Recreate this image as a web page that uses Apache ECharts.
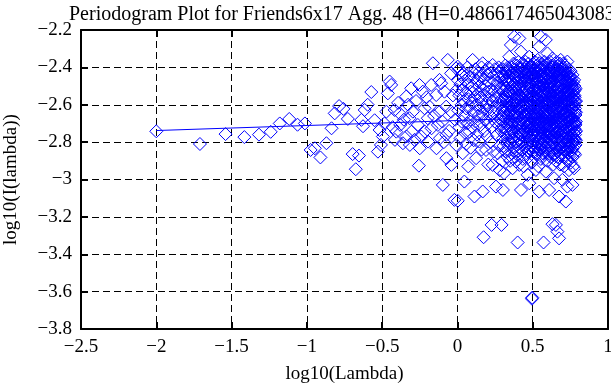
<!DOCTYPE html>
<html>
<head>
<meta charset="utf-8">
<script src="https://cdn.jsdelivr.net/npm/echarts@6/dist/echarts.min.js"></script>
<style>html,body{margin:0;padding:0;background:#fff}#c{width:611px;height:385px}</style>
</head>
<body>
<div id="c"></div>
<script>
// ---- data (log10(lambda), log10(I(lambda))) ----
const titleText = 'Periodogram Plot for Friends6x17 Agg. 48 (H=0.486617465043083)';
const xTicks = [-2.5, -2, -1.5, -1, -0.5, 0, 0.5, 1];
const yTicks = [-3.8, -3.6, -3.4, -3.2, -3, -2.8, -2.6, -2.4, -2.2];
const fitX = [-2.0, 0.787];
const fitY = [-2.738, -2.663];

const lowFreq = [
[-2.0,-2.742],[-1.71,-2.81],[-1.54,-2.757],[-1.415,-2.773],[-1.318,-2.76],[-1.24,-2.745],
[-1.18,-2.70],[-1.117,-2.676],[-1.062,-2.707],[-1.013,-2.70],[-0.975,-2.842],[-0.947,-2.833],
[-0.91,-2.882],[-0.87,-2.806],[-0.836,-2.726],[-0.815,-2.646],[-0.786,-2.607],[-0.757,-2.622],
[-0.728,-2.676],[-0.696,-2.864],[-0.675,-2.945],[-0.654,-2.872],[-0.638,-2.681],[-0.627,-2.715],
[-0.616,-2.628],[-0.596,-2.60],[-0.572,-2.532],[-0.55,-2.683],[-0.528,-2.851],[-0.517,-2.735]
];
const midFreq = [
[-0.508,-2.815],[-0.495,-2.77],[-0.484,-2.70],[-0.472,-2.637],[-0.462,-2.539],[-0.45,-2.476],
[-0.44,-2.494],[-0.43,-2.72],[-0.417,-2.628],[-0.415,-2.788],[-0.406,-2.744],[-0.394,-2.59],
[-0.384,-2.646],[-0.38,-2.708],[-0.362,-2.806],[-0.355,-2.68],[-0.34,-2.556],[-0.338,-2.77],
[-0.328,-2.60],[-0.318,-2.672],[-0.316,-2.815],[-0.307,-2.512],[-0.305,-2.744],[-0.296,-2.637],
[-0.285,-2.788],[-0.275,-2.58],[-0.263,-2.708],[-0.256,-2.926],[-0.252,-2.494],[-0.25,-2.833],
[-0.24,-2.77],[-0.23,-2.53],[-0.218,-2.619],[-0.216,-2.744],[-0.205,-2.56],[-0.197,-2.672],
[-0.195,-2.797],[-0.185,-2.61],[-0.174,-2.494],[-0.172,-2.726],[-0.163,-2.378],[-0.155,-2.66],
[-0.141,-2.548],[-0.139,-2.833],[-0.13,-2.708],[-0.119,-2.467],[-0.118,-2.637],[-0.116,-2.779],
[-0.108,-2.485],[-0.10,-2.69],[-0.097,-3.029],[-0.09,-2.80],[-0.086,-2.53],[-0.075,-2.61],
[-0.074,-2.761],[-0.073,-2.886],[-0.064,-2.36],[-0.055,-2.74],[-0.042,-2.432],[-0.041,-2.637],
[-0.04,-2.922],[-0.03,-2.55],[-0.02,-3.109],[-0.015,-2.68],[-0.009,-2.405],[-0.008,-2.815],[-0.004,-2.52]
];
const highFreqA = [
[0.002,-3.114],[0.002,-2.396],[0.005,-2.47],[0.005,-2.63],[0.012,-2.55],[0.012,-2.72],[0.012,-2.41],
[0.02,-2.49],[0.02,-2.78],[0.028,-2.60],[0.028,-2.44],[0.028,-2.69],[0.035,-2.86],[0.035,-2.52],
[0.042,-2.58],[0.042,-2.66],[0.042,-2.43],[0.046,-3.011],[0.05,-2.75],[0.05,-2.47],
[0.058,-2.62],[0.058,-2.54],[0.058,-2.81],[0.066,-2.40],[0.066,-2.70],[0.072,-2.57],[0.072,-2.49],
[0.072,-2.93],[0.08,-2.744],[0.08,-2.45],[0.08,-2.61],[0.088,-2.53],[0.088,-2.68],[0.088,-2.83],
[0.095,-2.42],[0.095,-2.59],[0.101,-2.36],[0.101,-2.72],[0.101,-2.50],[0.108,-2.64],[0.108,-2.79],
[0.108,-2.46],[0.113,-3.091],[0.113,-2.56],[0.12,-2.41],[0.12,-2.69],[0.12,-2.52],[0.124,-2.886],
[0.13,-2.60],[0.13,-2.47],[0.13,-2.76],[0.138,-2.54],[0.138,-2.66],[0.138,-2.43],[0.146,-2.797],
[0.146,-2.50],[0.146,-2.62],[0.152,-2.45],[0.152,-2.71],[0.152,-2.56],[0.16,-2.58],[0.16,-2.40],
[0.16,-2.84],[0.168,-2.378],[0.168,-3.064],[0.168,-2.65],[0.174,-3.309],[0.174,-2.52],
[0.178,-2.74],[0.178,-2.46],[0.178,-2.61],[0.185,-2.55],[0.185,-2.68],[0.185,-2.42],
[0.19,-2.842],[0.19,-2.50],[0.19,-2.59],[0.198,-2.44],[0.198,-2.77],[0.198,-2.63],
[0.205,-2.53],[0.205,-2.40],[0.205,-2.70],[0.205,-2.92],[0.212,-2.48],[0.212,-2.61],[0.212,-2.57],
[0.22,-2.66],[0.22,-2.43],[0.22,-2.80],[0.227,-3.243],[0.227,-2.52],[0.227,-2.72],
[0.234,-2.387],[0.234,-2.922],[0.234,-2.58],[0.24,-2.47],[0.24,-2.64],[0.24,-2.85],
[0.248,-2.55],[0.248,-2.41],[0.248,-2.69],[0.256,-3.038],[0.256,-2.50],[0.256,-2.62],
[0.262,-2.44],[0.262,-2.76],[0.262,-2.57],[0.267,-2.86],[0.267,-2.66],[0.267,-2.48],
[0.274,-2.53],[0.274,-2.40],[0.274,-2.71],[0.28,-2.60],[0.28,-2.45],[0.28,-2.82],[0.28,-2.95],
[0.287,-2.51],[0.287,-2.68],[0.287,-2.42],[0.293,-3.243],[0.293,-2.57],[0.293,-2.74],
[0.298,-2.46],[0.298,-2.63],[0.298,-2.90]
];
const highFreqB = [
[0.302,-2.41],[0.302,-2.53],[0.302,-2.61],[0.302,-2.69],[0.302,-2.78],[0.302,-3.056],
[0.31,-2.45],[0.31,-2.50],[0.31,-2.64],[0.31,-2.72],[0.31,-2.966],[0.31,-2.58],
[0.318,-2.39],[0.318,-2.56],[0.318,-2.67],[0.318,-2.75],[0.318,-2.85],[0.318,-2.47],
[0.326,-2.43],[0.326,-2.58],[0.326,-2.62],[0.326,-2.84],[0.326,-2.51],[0.326,-2.70],
[0.334,-2.40],[0.334,-2.48],[0.334,-2.66],[0.334,-2.79],[0.334,-2.88],[0.334,-2.55],
[0.344,-2.343],[0.344,-2.59],[0.344,-2.69],[0.344,-2.76],[0.344,-2.53],[0.344,-2.45],
[0.35,-2.42],[0.35,-2.52],[0.35,-2.61],[0.35,-2.68],[0.35,-2.81],[0.35,-2.90],
[0.355,-2.28],[0.355,-2.47],[0.355,-2.63],[0.355,-2.73],[0.355,-2.57],
[0.362,-2.40],[0.362,-2.55],[0.362,-2.66],[0.362,-2.78],[0.362,-2.86],[0.362,-2.50],
[0.366,-2.94],[0.366,-2.44],[0.366,-2.60],[0.366,-2.71],
[0.372,-2.38],[0.372,-2.49],[0.372,-2.57],[0.372,-2.69],[0.372,-2.83],[0.372,-2.62],
[0.377,-2.236],[0.377,-2.43],[0.377,-2.54],[0.377,-2.75],[0.377,-2.66],
[0.384,-2.41],[0.384,-2.51],[0.384,-2.64],[0.384,-2.72],[0.384,-2.80],[0.384,-2.88],
[0.389,-2.904],[0.389,-2.46],[0.389,-2.58],[0.389,-2.68],[0.389,-2.53],
[0.395,-2.39],[0.395,-2.44],[0.395,-2.62],[0.395,-2.77],[0.395,-2.70],[0.395,-2.56],
[0.40,-3.337],[0.40,-2.48],[0.40,-2.60],[0.40,-2.67],[0.40,-2.85],[0.40,-2.42],
[0.406,-2.37],[0.406,-2.52],[0.406,-2.63],[0.406,-2.74],[0.406,-2.81],[0.406,-2.57],
[0.411,-2.245],[0.411,-2.922],[0.411,-2.45],[0.411,-2.59],[0.411,-2.70],
[0.416,-2.40],[0.416,-2.50],[0.416,-2.65],[0.416,-2.78],[0.416,-2.87],[0.416,-2.55],
[0.422,-2.316],[0.422,-3.056],[0.422,-2.43],[0.422,-2.61],[0.422,-2.72],[0.422,-2.68],
[0.428,-2.38],[0.428,-2.47],[0.428,-2.56],[0.428,-2.64],[0.428,-2.76],[0.428,-2.84],
[0.434,-2.42],[0.434,-2.53],[0.434,-2.62],[0.434,-2.71],[0.434,-2.89],[0.434,-2.49],
[0.44,-2.39],[0.44,-2.58],[0.44,-2.67],[0.44,-2.80],[0.44,-2.45],[0.44,-2.93],
[0.446,-2.41],[0.446,-2.50],[0.446,-2.60],[0.446,-2.74],[0.446,-2.83],[0.446,-2.55],
[0.452,-2.37],[0.452,-2.46],[0.452,-2.63],[0.452,-2.69],[0.452,-2.78],[0.452,-2.58],
[0.458,-2.43],[0.458,-2.52],[0.458,-2.66],[0.458,-2.75],[0.458,-2.86],[0.458,-2.40],
[0.466,-2.975],[0.466,-2.48],[0.466,-2.57],[0.466,-2.64],[0.466,-2.72],[0.466,-2.81],
[0.472,-2.38],[0.472,-2.45],[0.472,-2.61],[0.472,-2.70],[0.472,-2.55],[0.472,-2.88],
[0.477,-2.343],[0.477,-3.02],[0.477,-2.50],[0.477,-2.65],[0.477,-2.77],[0.477,-2.42],
[0.483,-2.40],[0.483,-2.54],[0.483,-2.59],[0.483,-2.68],[0.483,-2.84],[0.483,-2.47],
[0.489,-2.39],[0.489,-2.49],[0.489,-2.62],[0.489,-2.73],[0.489,-2.80],[0.489,-2.57],
[0.495,-3.638],[0.495,-2.44],[0.495,-2.56],[0.495,-2.66],[0.495,-2.91],[0.495,-2.70],[0.497,-3.632]
];
const highFreqC = [
[0.502,-2.38],[0.502,-2.52],[0.502,-2.60],[0.502,-2.76],[0.502,-2.85],[0.502,-2.47],
[0.508,-2.41],[0.508,-2.49],[0.508,-2.64],[0.508,-2.71],[0.508,-2.79],[0.508,-2.57],
[0.514,-2.37],[0.514,-2.55],[0.514,-2.62],[0.514,-2.68],[0.514,-2.88],[0.514,-2.45],
[0.521,-2.949],[0.521,-2.43],[0.521,-2.58],[0.521,-2.74],[0.521,-2.82],[0.521,-2.52],
[0.527,-2.39],[0.527,-2.48],[0.527,-2.61],[0.527,-2.67],[0.527,-2.77],[0.527,-2.56],
[0.533,-2.36],[0.533,-2.46],[0.533,-2.54],[0.533,-2.65],[0.533,-2.72],[0.533,-2.86],
[0.538,-2.42],[0.538,-2.51],[0.538,-2.63],[0.538,-2.70],[0.538,-2.80],[0.538,-2.93],
[0.543,-2.289],[0.543,-2.378],[0.543,-3.065],[0.543,-2.58],[0.543,-2.76],[0.543,-2.67],
[0.549,-2.40],[0.549,-2.47],[0.549,-2.60],[0.549,-2.73],[0.549,-2.84],[0.549,-2.53],
[0.554,-2.236],[0.554,-2.44],[0.554,-2.56],[0.554,-2.66],[0.554,-2.78],[0.554,-2.89],
[0.56,-2.38],[0.56,-2.50],[0.56,-2.62],[0.56,-2.69],[0.56,-2.81],[0.56,-2.58],
[0.566,-2.41],[0.566,-2.53],[0.566,-2.64],[0.566,-2.75],[0.566,-2.87],[0.566,-2.46],
[0.572,-3.337],[0.572,-2.39],[0.572,-2.57],[0.572,-2.68],[0.572,-2.79],[0.572,-2.50],
[0.578,-2.37],[0.578,-2.45],[0.578,-2.61],[0.578,-2.72],[0.578,-2.83],[0.578,-2.55],
[0.587,-2.253],[0.587,-2.958],[0.587,-2.48],[0.587,-2.59],[0.587,-2.66],[0.587,-2.76],
[0.592,-2.40],[0.592,-2.52],[0.592,-2.63],[0.592,-2.70],[0.592,-2.86],[0.592,-2.44],
[0.598,-2.325],[0.598,-2.47],[0.598,-2.56],[0.598,-2.67],[0.598,-2.80],[0.598,-2.90],
[0.604,-2.38],[0.604,-2.50],[0.604,-2.60],[0.604,-2.74],[0.604,-2.84],[0.604,-2.58],
[0.609,-3.056],[0.609,-2.43],[0.609,-2.54],[0.609,-2.65],[0.609,-2.77],[0.609,-2.70],
[0.615,-2.37],[0.615,-2.46],[0.615,-2.62],[0.615,-2.71],[0.615,-2.82],[0.615,-2.52],
[0.62,-2.41],[0.62,-2.55],[0.62,-2.64],[0.62,-2.76],[0.62,-2.88],[0.62,-2.49],
[0.626,-2.39],[0.626,-2.48],[0.626,-2.58],[0.626,-2.68],[0.626,-2.79],[0.626,-2.61],
[0.631,-2.352],[0.631,-3.239],[0.631,-2.45],[0.631,-2.57],[0.631,-2.73],[0.631,-2.85],
[0.637,-2.40],[0.637,-2.51],[0.637,-2.63],[0.637,-2.70],[0.637,-2.81],[0.637,-2.92],
[0.642,-2.993],[0.642,-2.44],[0.642,-2.56],[0.642,-2.66],[0.642,-2.77],[0.642,-2.53],
[0.648,-2.38],[0.648,-2.49],[0.648,-2.60],[0.648,-2.72],[0.648,-2.86],[0.648,-2.64],
[0.654,-3.243],[0.654,-2.42],[0.654,-2.55],[0.654,-2.68],[0.654,-2.79],[0.654,-2.90]
];
const highFreqD = [
[0.659,-2.37],[0.659,-2.47],[0.659,-2.59],[0.659,-2.65],[0.659,-2.75],[0.659,-2.83],
[0.664,-3.279],[0.664,-2.41],[0.664,-2.52],[0.664,-2.62],[0.664,-2.71],[0.664,-2.88],
[0.67,-2.39],[0.67,-2.45],[0.67,-2.57],[0.67,-2.67],[0.67,-2.78],[0.67,-2.84],
[0.675,-3.315],[0.675,-3.091],[0.675,-2.43],[0.675,-2.54],[0.675,-2.64],[0.675,-2.74],
[0.681,-2.38],[0.681,-2.50],[0.681,-2.61],[0.681,-2.70],[0.681,-2.81],[0.681,-2.92],
[0.686,-2.36],[0.686,-2.47],[0.686,-2.56],[0.686,-2.66],[0.686,-2.76],[0.686,-2.87],
[0.692,-2.41],[0.692,-2.53],[0.692,-2.63],[0.692,-2.72],[0.692,-2.83],[0.692,-2.58],
[0.697,-3.002],[0.697,-2.40],[0.697,-2.49],[0.697,-2.60],[0.697,-2.69],[0.697,-2.79],
[0.703,-2.38],[0.703,-2.46],[0.703,-2.57],[0.703,-2.66],[0.703,-2.74],[0.703,-2.86],
[0.708,-2.42],[0.708,-2.55],[0.708,-2.62],[0.708,-2.71],[0.708,-2.82],[0.708,-2.93],
[0.714,-2.39],[0.714,-2.50],[0.714,-2.59],[0.714,-2.68],[0.714,-2.78],[0.714,-2.88],
[0.72,-3.118],[0.72,-2.44],[0.72,-2.56],[0.72,-2.64],[0.72,-2.75],[0.72,-2.84],
[0.725,-2.40],[0.725,-2.48],[0.725,-2.61],[0.725,-2.70],[0.725,-2.80],[0.725,-2.53],
[0.73,-2.369],[0.73,-3.038],[0.73,-2.52],[0.73,-2.63],[0.73,-2.73],[0.73,-2.90],
[0.736,-2.43],[0.736,-2.55],[0.736,-2.66],[0.736,-2.77],[0.736,-2.86],[0.736,-2.48],
[0.741,-2.41],[0.741,-2.50],[0.741,-2.60],[0.741,-2.69],[0.741,-2.82],[0.741,-2.95],
[0.747,-2.45],[0.747,-2.57],[0.747,-2.64],[0.747,-2.74],[0.747,-2.87],[0.747,-2.52],
[0.752,-2.42],[0.752,-2.53],[0.752,-2.62],[0.752,-2.71],[0.752,-2.80],[0.752,-2.91],
[0.758,-2.46],[0.758,-2.56],[0.758,-2.67],[0.758,-2.76],[0.758,-2.85],[0.758,-2.50],
[0.764,-3.029],[0.764,-2.44],[0.764,-2.59],[0.764,-2.68],[0.764,-2.79],[0.764,-2.88],
[0.769,-2.48],[0.769,-2.55],[0.769,-2.63],[0.769,-2.72],[0.769,-2.83],[0.769,-2.93],
[0.775,-2.467],[0.775,-2.94],[0.775,-2.58],[0.775,-2.66],[0.775,-2.75],[0.775,-2.86],
[0.777,-2.50],[0.777,-2.60],[0.777,-2.69],[0.777,-2.78],[0.777,-2.82],[0.777,-2.55],
[0.781,-2.868],[0.781,-2.52],[0.781,-2.62],[0.781,-2.70],[0.781,-2.76],
[0.784,-2.512],[0.784,-2.583],[0.784,-2.655],[0.784,-2.708],[0.784,-2.744],[0.784,-2.815],
[0.787,-2.58],[0.787,-2.64],[0.787,-2.69],[0.787,-2.74],[0.787,-2.79]
];
const highFreqE = [
[0.306,-2.44],[0.306,-2.66],[0.306,-2.82],[0.314,-2.52],[0.314,-2.61],[0.314,-2.76],
[0.322,-2.42],[0.322,-2.54],[0.322,-2.73],[0.33,-2.47],[0.33,-2.63],[0.33,-2.81],
[0.339,-2.41],[0.339,-2.56],[0.339,-2.71],[0.347,-2.49],[0.347,-2.64],[0.347,-2.75],
[0.358,-2.43],[0.358,-2.60],[0.358,-2.69],[0.369,-2.53],[0.369,-2.65],[0.369,-2.79],
[0.38,-2.45],[0.38,-2.59],[0.38,-2.70],[0.392,-2.50],[0.392,-2.66],[0.392,-2.84],
[0.403,-2.44],[0.403,-2.55],[0.403,-2.72],[0.414,-2.41],[0.414,-2.62],[0.414,-2.76],
[0.425,-2.46],[0.425,-2.58],[0.425,-2.80],[0.437,-2.44],[0.437,-2.60],[0.437,-2.75],
[0.449,-2.47],[0.449,-2.65],[0.449,-2.70],
[0.455,-2.44],[0.455,-2.56],[0.455,-2.65],[0.455,-2.74],[0.462,-2.47],[0.462,-2.59],[0.462,-2.72],[0.462,-2.81],
[0.469,-2.42],[0.469,-2.53],[0.469,-2.68],[0.469,-2.77],[0.475,-2.50],[0.475,-2.61],[0.475,-2.70],[0.475,-2.85],
[0.48,-2.45],[0.48,-2.57],[0.48,-2.63],[0.48,-2.79],[0.486,-2.40],[0.486,-2.51],[0.486,-2.66],[0.486,-2.73],
[0.492,-2.48],[0.492,-2.54],[0.492,-2.69],[0.492,-2.82],[0.499,-2.43],[0.499,-2.60],[0.499,-2.71],[0.499,-2.76],
[0.505,-2.44],[0.505,-2.56],[0.505,-2.67],[0.505,-2.74],[0.511,-2.46],[0.511,-2.59],[0.511,-2.73],[0.511,-2.83],
[0.517,-2.41],[0.517,-2.52],[0.517,-2.66],[0.517,-2.77],[0.524,-2.49],[0.524,-2.62],[0.524,-2.70],[0.524,-2.86],
[0.53,-2.43],[0.53,-2.57],[0.53,-2.64],[0.53,-2.80],[0.536,-2.40],[0.536,-2.50],[0.536,-2.68],[0.536,-2.75],
[0.541,-2.47],[0.541,-2.55],[0.541,-2.71],[0.541,-2.84],[0.546,-2.44],[0.546,-2.61],[0.546,-2.69],[0.546,-2.78],
[0.552,-2.42],[0.552,-2.51],[0.552,-2.64],[0.552,-2.74],[0.557,-2.48],[0.557,-2.59],[0.557,-2.72],[0.557,-2.83],
[0.563,-2.45],[0.563,-2.55],[0.563,-2.67],[0.563,-2.77],[0.569,-2.40],[0.569,-2.60],[0.569,-2.70],[0.569,-2.86],
[0.575,-2.49],[0.575,-2.53],[0.575,-2.66],[0.575,-2.75],[0.582,-2.43],[0.582,-2.57],[0.582,-2.69],[0.582,-2.80],
[0.59,-2.41],[0.59,-2.55],[0.59,-2.71],[0.59,-2.83],[0.595,-2.46],[0.595,-2.60],[0.595,-2.65],[0.595,-2.77],
[0.601,-2.44],[0.601,-2.53],[0.601,-2.68],[0.601,-2.73],[0.607,-2.48],[0.607,-2.58],[0.607,-2.72],[0.607,-2.86],
[0.612,-2.42],[0.612,-2.51],[0.612,-2.66],[0.612,-2.79],[0.618,-2.45],[0.618,-2.59],[0.618,-2.69],[0.618,-2.74],
[0.623,-2.43],[0.623,-2.54],[0.623,-2.63],[0.623,-2.83],[0.629,-2.40],[0.629,-2.61],[0.629,-2.71],[0.629,-2.77],
[0.634,-2.47],[0.634,-2.55],[0.634,-2.67],[0.634,-2.80],[0.64,-2.44],[0.64,-2.59],[0.64,-2.73],[0.64,-2.87],
[0.645,-2.42],[0.645,-2.52],[0.645,-2.65],[0.645,-2.75],[0.651,-2.46],[0.651,-2.57],[0.651,-2.70],[0.651,-2.82],
[0.657,-2.43],[0.657,-2.62],[0.657,-2.68],[0.657,-2.78],[0.662,-2.45],[0.662,-2.55],[0.662,-2.66],[0.662,-2.74],
[0.667,-2.41],[0.667,-2.50],[0.667,-2.72],[0.667,-2.85],[0.672,-2.48],[0.672,-2.60],[0.672,-2.69],[0.672,-2.79],
[0.678,-2.44],[0.678,-2.56],[0.678,-2.67],[0.678,-2.76],[0.684,-2.42],[0.684,-2.53],[0.684,-2.64],[0.684,-2.83],
[0.689,-2.46],[0.689,-2.59],[0.689,-2.71],[0.689,-2.80],[0.695,-2.44],[0.695,-2.55],[0.695,-2.66],[0.695,-2.75],
[0.70,-2.43],[0.70,-2.52],[0.70,-2.63],[0.70,-2.77],[0.706,-2.47],[0.706,-2.60],[0.706,-2.68],[0.706,-2.84],
[0.711,-2.45],[0.711,-2.54],[0.711,-2.65],[0.711,-2.74],[0.717,-2.42],[0.717,-2.58],[0.717,-2.72],[0.717,-2.81],
[0.722,-2.46],[0.722,-2.52],[0.722,-2.67],[0.722,-2.78],[0.728,-2.44],[0.728,-2.57],[0.728,-2.69],[0.728,-2.85],
[0.733,-2.47],[0.733,-2.59],[0.733,-2.66],[0.733,-2.76],[0.739,-2.45],[0.739,-2.53],[0.739,-2.72],[0.739,-2.80],
[0.744,-2.48],[0.744,-2.61],[0.744,-2.68],[0.744,-2.83],[0.75,-2.47],[0.75,-2.55],[0.75,-2.66],[0.75,-2.77],
[0.755,-2.49],[0.755,-2.59],[0.755,-2.73],[0.755,-2.81],[0.761,-2.51],[0.761,-2.62],[0.761,-2.70],[0.761,-2.84],
[0.766,-2.52],[0.766,-2.57],[0.766,-2.67],[0.766,-2.77],[0.772,-2.53],[0.772,-2.61],[0.772,-2.71],[0.772,-2.80],
[0.779,-2.56],[0.779,-2.64],[0.779,-2.73],[0.779,-2.79]
];

// ---- chart ----
const points = lowFreq.concat(midFreq, highFreqA, highFreqB, highFreqC, highFreqD, highFreqE);
const fitLine = fitX.map((x, i) => [x, fitY[i]]);
const FONT = 'Liberation Serif';
const fmt = v => String(+(+v).toFixed(1)).replace('-', '\u2212');

const chart = echarts.init(document.getElementById('c'), null, {renderer: 'canvas'});
const axisCommon = {
  axisLine: {show: true, onZero: false, lineStyle: {color: '#000', width: 2}},
  axisTick: {show: true, inside: true, length: 7, lineStyle: {color: '#000', width: 2}},
};
chart.setOption({
  animation: false,
  backgroundColor: '#fff',
  title: {
    text: titleText, left: 64, top: 0,
    textStyle: {fontFamily: FONT, fontSize: 20, fontWeight: 'normal', color: '#000'}
  },
  grid: {left: 81, right: 3, top: 30, bottom: 56, containLabel: false, outerBoundsMode: 'none'},
  xAxis: [{
    type: 'value', min: xTicks[0], max: xTicks[xTicks.length - 1], interval: 0.5,
    position: 'bottom',
    name: 'log10(Lambda)', nameLocation: 'middle', nameGap: 36,
    nameTextStyle: {fontFamily: FONT, fontSize: 19, color: '#000'},
    ...axisCommon,
    axisLabel: {margin: 9, fontFamily: FONT, fontSize: 19, color: '#000', formatter: fmt},
    splitLine: {show: true, lineStyle: {color: '#000', width: 1, type: [7, 4]}}
  }, {
    type: 'value', min: xTicks[0], max: xTicks[xTicks.length - 1], interval: 0.5,
    position: 'top', ...axisCommon, axisLabel: {show: false}, splitLine: {show: false}
  }],
  yAxis: [{
    type: 'value', min: yTicks[0], max: yTicks[yTicks.length - 1], interval: 0.2,
    position: 'left',
    name: 'log10(I(lambda))', nameLocation: 'middle', nameGap: 60, nameRotate: 90,
    nameTextStyle: {fontFamily: FONT, fontSize: 19, color: '#000'},
    ...axisCommon,
    axisLabel: {margin: 9, fontFamily: FONT, fontSize: 19, color: '#000', formatter: fmt},
    splitLine: {show: true, lineStyle: {color: '#000', width: 1, type: [7, 4]}}
  }, {
    type: 'value', min: yTicks[0], max: yTicks[yTicks.length - 1], interval: 0.2,
    position: 'right', ...axisCommon, axisLabel: {show: false}, splitLine: {show: false}
  }],
  series: [{
    type: 'scatter', data: points, symbol: 'diamond', symbolSize: 13,
    itemStyle: {color: 'rgba(0,0,0,0)', borderColor: '#0000ff', borderWidth: 1, opacity: 1},
    emphasis: {disabled: true}, silent: true, z: 2
  }, {
    type: 'line', data: fitLine, showSymbol: false, symbol: 'none',
    lineStyle: {color: '#0000ff', width: 1}, silent: true, z: 3
  }]
});
</script>
</body>
</html>
